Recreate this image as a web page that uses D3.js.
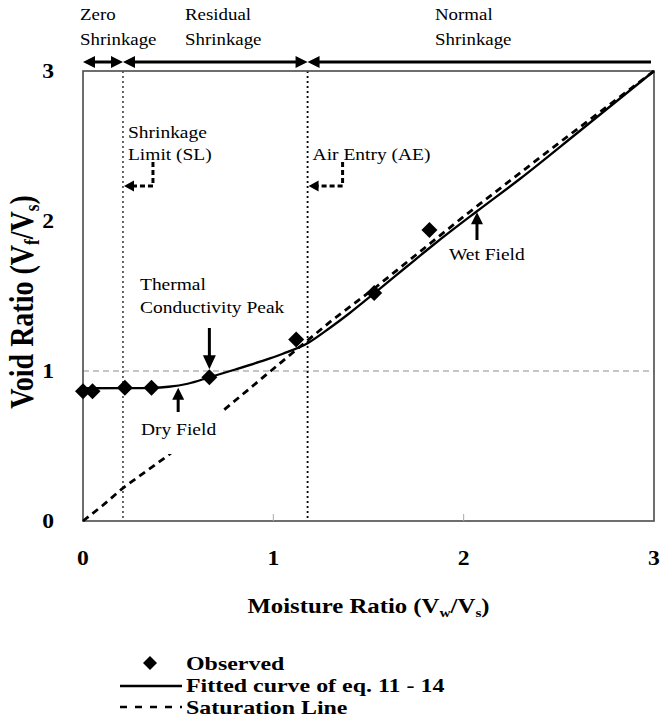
<!DOCTYPE html>
<html lang="en">
<head>
<meta charset="UTF-8">
<title>Void Ratio vs Moisture Ratio</title>
<script src="https://d3js.org/d3.v7.min.js"></script>
<style>
    body { margin: 0; background: #fff; }
    text { font-family: 'Liberation Serif', 'Times New Roman', serif; fill: #000; }
</style>
</head>
<body>
<div id="chart"></div>
<script>
    // values
    const xTicks = [0, 1, 2, 3];
    const yTicks = [0, 1, 2, 3];
    const observedX = [0, 0.05, 0.22, 0.36, 0.664, 1.12, 1.53, 1.82];
    const observedY = [0.865, 0.865, 0.889, 0.889, 0.958, 1.21, 1.52, 1.94];
    const fittedX = [0, 0.2, 0.36, 0.45, 0.55, 0.664, 0.8, 0.93, 1.05, 1.18, 1.3, 1.4, 1.53, 1.7, 1.85, 2.07, 2.3, 2.6, 3.0];
    const fittedY = [0.885, 0.886, 0.888, 0.895, 0.915, 0.958, 1.01, 1.062, 1.115, 1.185, 1.29, 1.385, 1.518, 1.695, 1.85, 2.065, 2.285, 2.59, 3.0];
    const saturationX = [0, 0.1, 0.21, 0.33, 0.45, 0.74, 1.1, 1.31, 1.53, 2.0, 2.5, 3.0];
    const saturationY = [0, 0.1, 0.22, 0.33, 0.44, 0.74, 1.12, 1.34, 1.55, 2.03, 2.52, 3.0];
    const zoneBounds = [0, 0.21, 1.18, 3];
    const zoneNames = [["Zero", "Shrinkage"], ["Residual", "Shrinkage"], ["Normal", "Shrinkage"]];
    const limitX = [0.21, 1.18];
    const limitNames = [["Shrinkage", "Limit (SL)"], ["Air Entry (AE)"]];
    const refY = 1;
    const legendNames = ["Observed", "Fitted curve of eq. 11 - 14", "Saturation Line"];

    const W = 661, H = 726;
    const margin = { top: 71, right: 7, bottom: 205, left: 83 };
    const width = W - margin.left - margin.right;
    const height = H - margin.top - margin.bottom;

    const svg = d3.select("#chart").append("svg")
        .attr("width", W)
        .attr("height", H);
    const g = svg.append("g")
        .attr("transform", `translate(${margin.left},${margin.top})`);

    const x = d3.scaleLinear().domain([0, 3]).range([0, width]);
    const y = d3.scaleLinear().domain([0, 3]).range([height, 0]);

    // the source figure is stretched sideways, so text gets a horizontal scale
    const SX = 1.18;
    function txt(parent, px, py, str, size, bold, anchor, sx) {
        return parent.append("text")
            .attr("transform", `translate(${px},${py}) scale(${sx || SX},1)`)
            .attr("text-anchor", anchor || "start")
            .style("font-size", size + "px")
            .style("font-weight", bold ? "bold" : "normal")
            .text(str);
    }
    // parts: [string, isSubscript]
    function rich(sel, parts, size) {
        let shifted = false;
        parts.forEach(([s, sub]) => {
            const t = sel.append("tspan").text(s);
            if (sub) {
                t.style("font-size", (size * 0.62) + "px").attr("dy", size * 0.18);
                shifted = true;
            } else if (shifted) {
                t.attr("dy", -size * 0.18);
                shifted = false;
            }
        });
    }
    function head(parent, tx, ty, dx, dy, len, half) {
        const bx = tx - dx * len, by = ty - dy * len;
        parent.append("path")
            .attr("d", `M${tx},${ty}L${bx - dy * half},${by + dx * half}L${bx + dy * half},${by - dx * half}Z`)
            .attr("fill", "#000");
    }
    const diamond = (cx, cy, r) => `M${cx},${cy - r}L${cx + r},${cy}L${cx},${cy + r}L${cx - r},${cy}Z`;

    // y = 1 reference line
    g.append("line")
        .attr("x1", 0).attr("x2", width)
        .attr("y1", y(refY)).attr("y2", y(refY))
        .attr("stroke", "#8c8c8c").attr("stroke-width", 1)
        .attr("stroke-dasharray", "6,4");

    // shrinkage limit / air entry verticals
    limitX.forEach((v, i) => {
        g.append("line")
            .attr("x1", x(v)).attr("x2", x(v))
            .attr("y1", 0).attr("y2", height)
            .attr("stroke", "#000")
            .attr("stroke-width", i === 0 ? 1.2 : 1.8)
            .attr("stroke-dasharray", "2,3");
    });

    // frame
    g.append("rect")
        .attr("width", width).attr("height", height)
        .attr("fill", "none").attr("stroke", "#555").attr("stroke-width", 1.7);

    // small inner ticks on x axis
    g.selectAll(".xtick").data(xTicks.slice(1, -1)).enter().append("line")
        .attr("x1", d => x(d)).attr("x2", d => x(d))
        .attr("y1", height).attr("y2", height - 7)
        .attr("stroke", "#aaa").attr("stroke-width", 1);

    // tick labels
    xTicks.forEach(d => txt(svg, margin.left + x(d), 565, d, 20, true, "middle"));
    yTicks.forEach(d => txt(svg, 54, margin.top + y(d) + 7, d, 20, true, "end"));

    // axis titles
    const xt = txt(svg, margin.left + width / 2, 613, "", 21, true, "middle");
    rich(xt, [["Moisture Ratio (V"], ["w", true], ["/V"], ["s", true], [")"]], 21);
    const yt = svg.append("text")
        .attr("transform", `translate(33,302) rotate(-90) scale(1,${SX})`)
        .attr("text-anchor", "middle")
        .style("font-size", "28px").style("font-weight", "bold");
    rich(yt, [["Void Ratio (V"], ["f", true], ["/V"], ["s", true], [")"]], 28);

    // saturation line
    const satData = saturationX.map((v, i) => [v, saturationY[i]]);
    g.append("path")
        .datum(satData)
        .attr("d", d3.line().x(d => x(d[0])).y(d => y(d[1])))
        .attr("fill", "none").attr("stroke", "#000")
        .attr("stroke-width", 2.8).attr("stroke-dasharray", "7,5");

    // fitted curve
    const fitData = fittedX.map((v, i) => [v, fittedY[i]]);
    g.append("path")
        .datum(fitData)
        .attr("d", d3.line().curve(d3.curveMonotoneX).x(d => x(d[0])).y(d => y(d[1])))
        .attr("fill", "none").attr("stroke", "#000").attr("stroke-width", 2.3);

    // observed points
    const obsData = observedX.map((v, i) => [v, observedY[i]]);
    g.selectAll(".obs").data(obsData).enter().append("path")
        .attr("class", "obs")
        .attr("d", d => diamond(x(d[0]), y(d[1]), 8))
        .attr("fill", "#000");

    // zone arrows along the top
    const zy = -9;
    zoneBounds.slice(0, -1).forEach((b, i) => {
        const x0 = x(b), x1 = i === 2 ? x(zoneBounds[i + 1]) - 3 : x(zoneBounds[i + 1]);
        g.append("line")
            .attr("x1", x0 + 4).attr("x2", i === 2 ? x1 : x1 - 4)
            .attr("y1", zy).attr("y2", zy)
            .attr("stroke", "#000").attr("stroke-width", 3);
        head(g, x0, zy, -1, 0, 12, 6);
        if (i < 2) head(g, x1, zy, 1, 0, 12, 6);
    });
    const zoneLabelX = [80, 185, 435];
    zoneNames.forEach((lines, i) => {
        lines.forEach((s, j) => txt(svg, zoneLabelX[i], 20 + j * 25, s, 16, false));
    });

    // limit labels with dashed elbow arrows
    const elbowOffset = [30, 35];
    limitX.forEach((v, i) => {
        limitNames[i].forEach((s, j) => {
            const row = limitNames[i].length === 1 ? 1 : j;
            txt(svg, margin.left + x(v) + 5, 138 + row * 22, s, 16.5, false);
        });
        const vx = x(v) + elbowOffset[i];
        g.append("path")
            .attr("d", `M${vx},${162 - margin.top}V${186 - margin.top}H${x(v) + 10}`)
            .attr("fill", "none").attr("stroke", "#000")
            .attr("stroke-width", 3).attr("stroke-dasharray", "5,3");
        head(g, x(v) + 1, 186 - margin.top, -1, 0, 10, 5.5);
    });

    // Thermal conductivity peak
    txt(svg, 140, 290, "Thermal", 16.5, false);
    txt(svg, 140, 313, "Conductivity Peak", 16.5, false);
    const px = x(observedX[4]), py = y(observedY[4]) - 8;
    g.append("line").attr("x1", px).attr("x2", px)
        .attr("y1", 328 - margin.top).attr("y2", py - 10)
        .attr("stroke", "#000").attr("stroke-width", 3);
    head(g, px, py, 0, 1, 14, 6.5);

    // Dry field (label box hides part of the saturation line)
    g.append("rect")
        .attr("x", 132 - margin.left).attr("y", 412 - margin.top)
        .attr("width", 94).attr("height", 42).attr("fill", "#fff");
    txt(svg, 141, 435, "Dry Field", 16.5, false);
    const dx = x(0.5), dy = y(0.895) + 1;
    g.append("line").attr("x1", dx).attr("x2", dx)
        .attr("y1", 412 - margin.top).attr("y2", dy + 10)
        .attr("stroke", "#000").attr("stroke-width", 3);
    head(g, dx, dy, 0, -1, 12, 6);

    // Wet field
    txt(svg, 449, 260, "Wet Field", 16.5, false);
    const wx = x(2.07), wy = y(2.065) + 1;
    g.append("line").attr("x1", wx).attr("x2", wx)
        .attr("y1", 240 - margin.top).attr("y2", wy + 10)
        .attr("stroke", "#000").attr("stroke-width", 3);
    head(g, wx, wy, 0, -1, 12, 6);

    // legend
    const leg = svg.append("g");
    leg.append("path").attr("d", diamond(150, 663, 7)).attr("fill", "#000");
    leg.append("line").attr("x1", 120).attr("x2", 182).attr("y1", 686).attr("y2", 686)
        .attr("stroke", "#000").attr("stroke-width", 2.3);
    leg.append("line").attr("x1", 120).attr("x2", 182).attr("y1", 707).attr("y2", 707)
        .attr("stroke", "#000").attr("stroke-width", 2.5).attr("stroke-dasharray", "7,8");
    legendNames.forEach((s, i) => txt(leg, 186, [670, 692, 714][i], s, 18, true, "start", 1.33));
</script>
</body>
</html>
